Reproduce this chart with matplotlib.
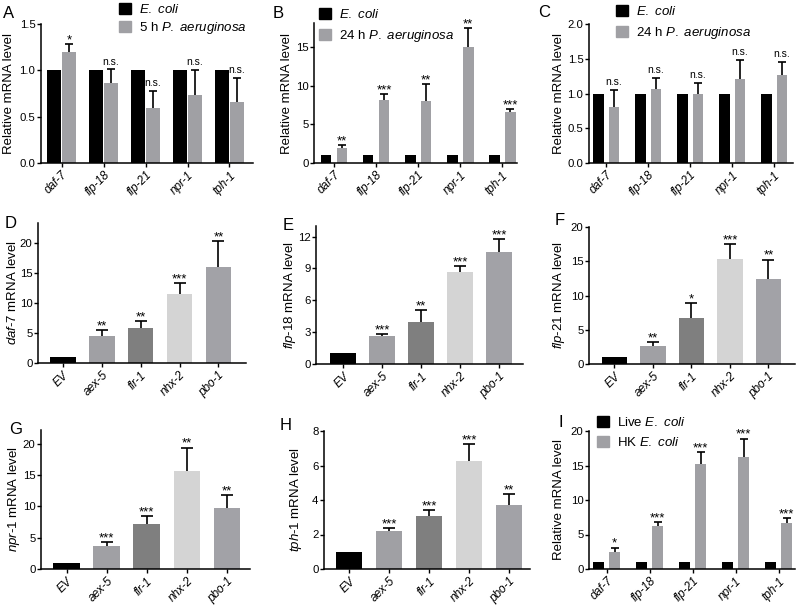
import matplotlib
matplotlib.use('Agg')
import matplotlib.pyplot as plt
from matplotlib.patches import Patch
import numpy as np

plt.rcParams['font.family'] = ['Liberation Sans', 'DejaVu Sans']
plt.rcParams['mathtext.fontset'] = 'custom'
plt.rcParams['mathtext.it'] = 'Liberation Sans:italic'
plt.rcParams['mathtext.rm'] = 'Liberation Sans'

# ---------------- data ----------------
genes = ['daf-7', 'flp-18', 'flp-21', 'npr-1', 'tph-1']
strains = ['EV', 'aex-5', 'flr-1', 'nhx-2', 'pbo-1']

ctrl_vals = [1, 1, 1, 1, 1]

a_vals = [1.20, 0.86, 0.59, 0.73, 0.66]
a_errs = [0.08, 0.15, 0.19, 0.27, 0.26]
a_sig = ['*', 'n.s.', 'n.s.', 'n.s.', 'n.s.']

b_vals = [1.95, 8.15, 8.05, 15.05, 6.6]
b_errs = [0.33, 0.8, 2.15, 2.45, 0.4]
b_sig = ['**', '***', '**', '**', '***']

c_vals = [0.80, 1.07, 1.00, 1.21, 1.27]
c_errs = [0.25, 0.16, 0.15, 0.27, 0.18]
c_sig = ['n.s.', 'n.s.', 'n.s.', 'n.s.', 'n.s.']

d_vals = [1.0, 4.45, 5.8, 11.45, 15.9]
d_errs = [0.0, 1.0, 1.2, 1.85, 4.4]
d_sig = ['', '**', '**', '***', '**']

e_vals = [1.0, 2.68, 3.94, 8.69, 10.58]
e_errs = [0.0, 0.15, 1.1, 0.5, 1.17]
e_sig = ['', '***', '**', '***', '***']

f_vals = [1.0, 2.66, 6.68, 15.3, 12.4]
f_errs = [0.0, 0.5, 2.2, 2.2, 2.85]
f_sig = ['', '**', '*', '***', '**']

g_vals = [1.0, 3.67, 7.2, 15.6, 9.73]
g_errs = [0.0, 0.6, 1.2, 3.8, 2.1]
g_sig = ['', '***', '***', '**', '**']

h_vals = [1.0, 2.18, 3.08, 6.28, 3.72]
h_errs = [0.0, 0.19, 0.35, 0.96, 0.62]
h_sig = ['', '***', '***', '***', '**']

i_vals = [2.5, 6.17, 15.18, 16.2, 6.6]
i_errs = [0.6, 0.67, 1.78, 2.7, 0.73]
i_sig = ['*', '***', '***', '***', '***']

strain_colors = ['#000000', '#a0a0a4', '#7f7f7f', '#d4d4d4', '#a2a2a7']
black = '#000000'
gray = '#a0a0a4'

# ---------------- layout ----------------
W, H = 800, 609
fig = plt.figure(figsize=(W / 100, H / 100), dpi=100)


def ax_at(l, r, t, b):
    ax = fig.add_axes([l / W, 1 - b / H, (r - l) / W, (b - t) / H])
    ax._px = (l, r)
    return ax


def style(ax, ylim, yticks, fmt=None):
    for s in ['top', 'right']:
        ax.spines[s].set_visible(False)
    for s in ['left', 'bottom']:
        ax.spines[s].set_linewidth(1.1)
    ax.set_ylim(*ylim)
    ax.set_yticks(yticks)
    if fmt:
        ax.set_yticklabels([fmt % v for v in yticks])
    ax.tick_params(axis='both', length=3.0, width=1.0, pad=1.5)
    ax.tick_params(axis='y', labelsize=8.2, pad=1.0)


def place_ylabel(ax, xpx):
    l, r = ax._px
    ax.yaxis.set_label_coords((xpx - l) / (r - l), 0.5)


def errs(ax, x, vals, err, capsize, sig):
    x = np.asarray(x, float)
    vals = np.asarray(vals, float)
    err = np.asarray(err, float)
    m = err > 0
    if m.any():
        _, caps, _ = ax.errorbar(x[m], vals[m], yerr=[np.zeros(m.sum()), err[m]],
                                 fmt='none', ecolor='black', elinewidth=1.2,
                                 capsize=capsize, capthick=1.2)
        for c in caps:
            if np.allclose(c.get_ydata(), vals[m]):
                c.set_visible(False)
    for xi, v, e, s in zip(x, vals, err, sig):
        if not s:
            continue
        if s == 'n.s.':
            ax.annotate(s, (xi, v + e), xytext=(0, 3.5), textcoords='offset points',
                        ha='center', va='baseline', fontsize=7.5)
        else:
            ax.annotate(s, (xi, v + e), xytext=(0, 0.5), textcoords='offset points',
                        ha='center', va='baseline', fontsize=9.5)


def xlabels(ax, labels, pos):
    ax.set_xticks(pos)
    ax.set_xticklabels(labels, rotation=45, ha='right', rotation_mode='anchor',
                       fontstyle='italic', fontsize=8.5)


def two_bar(ax, vals, err, sig, off, width, xlim, capsize, labels_leg, leg_anchor, lspace, ylab_x):
    x = np.arange(len(genes))
    ax.bar(x - off, ctrl_vals, width, color=black)
    ax.bar(x + off, vals, width, color=gray)
    errs(ax, x + off, vals, err, capsize, sig)
    ax.set_xlim(*xlim)
    xlabels(ax, genes, x)
    ax.set_ylabel('Relative mRNA level', fontsize=9.5)
    place_ylabel(ax, ylab_x)
    handles = [Patch(color=black), Patch(color=gray)]
    ax.legend(handles, labels_leg, loc='upper left', frameon=False, fontsize=9.5,
              bbox_to_anchor=(leg_anchor[0] / W, 1 - leg_anchor[1] / H),
              bbox_transform=fig.transFigure, borderpad=0, borderaxespad=0,
              handlelength=0.9, handleheight=0.9, handletextpad=0.6,
              labelspacing=lspace)


def one_bar(ax, vals, err, sig, xlim, ylabel, capsize, ylab_x):
    x = np.arange(len(strains))
    ax.bar(x, vals, 0.66, color=strain_colors)
    errs(ax, x, vals, err, capsize, sig)
    ax.set_xlim(*xlim)
    xlabels(ax, strains, x)
    ax.set_ylabel(ylabel, fontsize=9.5)
    place_ylabel(ax, ylab_x)


ecoli = r'$\mathit{E.\ coli}$'

# A
axA = ax_at(41, 253, 24, 163)
two_bar(axA, a_vals, a_errs, a_sig, 0.18, 0.34, (-0.49, 4.56), 3.0,
        [ecoli, r'5 h $\mathit{P.\ aeruginosa}$'], (119, 3), 0.3, 15)
style(axA, (0, 1.5), [0, 0.5, 1.0, 1.5], '%.1f')

# B
axB = ax_at(314, 517, 23, 163)
two_bar(axB, b_vals, b_errs, b_sig, 0.19, 0.25, (-0.48, 4.35), 3.0,
        [ecoli, r'24 h $\mathit{P.\ aeruginosa}$'], (319, 8), 0.55, 293)
style(axB, (0, 18.1), [0, 5, 10, 15])

# C
axC = ax_at(589, 793, 24, 163)
two_bar(axC, c_vals, c_errs, c_sig, 0.185, 0.25, (-0.41, 4.45), 3.0,
        [ecoli, r'24 h $\mathit{P.\ aeruginosa}$'], (616, 5), 0.55, 565)
style(axC, (0, 2.0), [0, 0.5, 1.0, 1.5, 2.0], '%.1f')

# D
axD = ax_at(38, 246, 223, 363)
one_bar(axD, d_vals, d_errs, d_sig, (-0.64, 4.71), r'$\mathit{daf}$-$\mathit{7}$ mRNA level', 4.5, 19)
style(axD, (0, 23.3), [0, 5, 10, 15, 20])

# E
axE = ax_at(316, 523, 226, 364)
one_bar(axE, e_vals, e_errs, e_sig, (-0.69, 4.61), r'$\mathit{flp}$-$\mathit{18}$ mRNA level', 4.5, 298)
style(axE, (0, 13), [0, 3, 6, 9, 12])

# F
axF = ax_at(589, 795, 227, 364)
one_bar(axF, f_vals, f_errs, f_sig, (-0.66, 4.69), r'$\mathit{flp}$-$\mathit{21}$ mRNA level', 4.5, 567)
style(axF, (0, 20), [0, 5, 10, 15, 20])

# G
axG = ax_at(41, 250, 430, 569)
one_bar(axG, g_vals, g_errs, g_sig, (-0.64, 4.58), r'$\mathit{npr}$-$\mathit{1}$ mRNA level', 4.5, 22)
style(axG, (0, 22.2), [0, 5, 10, 15, 20])

# H
axH = ax_at(324, 530, 431, 569)
one_bar(axH, h_vals, h_errs, h_sig, (-0.63, 4.52), r'$\mathit{tph}$-$\mathit{1}$ mRNA level', 4.5, 304)
style(axH, (0, 8), [0, 2, 4, 6, 8])

# I
axI = ax_at(589, 795, 431, 569)
two_bar(axI, i_vals, i_errs, i_sig, 0.185, 0.25, (-0.41, 4.38), 3.0,
        [r'Live $\mathit{E.\ coli}$', r'HK $\mathit{E.\ coli}$'], (597, 416), 0.55, 565)
style(axI, (0, 20), [0, 5, 10, 15, 20])

# panel letters
letters = [('A', 3, 6), ('B', 273, 6), ('C', 538, 5), ('D', 5, 216), ('E', 283, 218),
           ('F', 555, 213), ('G', 9, 422), ('H', 280, 418), ('I', 558, 415)]
for t, x, y in letters:
    fig.text(x / W, 1 - y / H, t, fontsize=12, ha='left', va='top')

fig.savefig('out.png', dpi=100)
